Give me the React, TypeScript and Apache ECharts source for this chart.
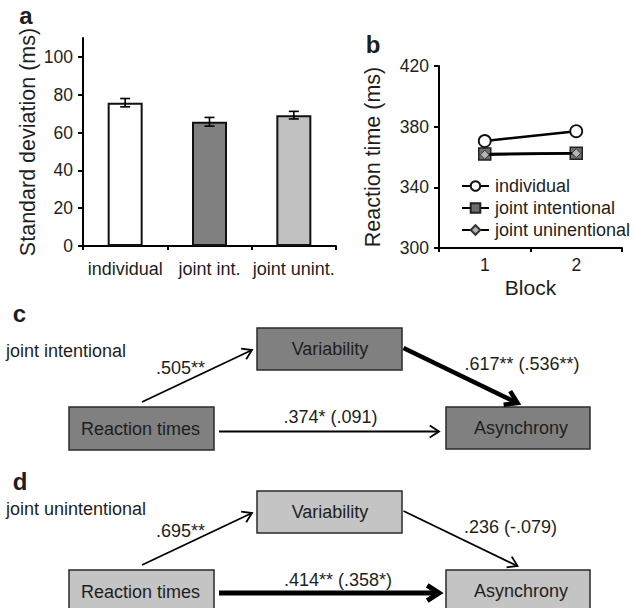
import React, { useEffect, useRef } from 'react';
import * as echarts from 'echarts';

// ---- data ----
const barCategories = ['individual', 'joint int.', 'joint unint.'];
const sdMeans = [75.8, 65.7, 69.2];
const sdErrors = [2.2, 2.3, 2.0];
const sdTicks = [0, 20, 40, 60, 80, 100];
const sdMax = 110;

const blocks = ['1', '2'];
const rtIndividual = [370.5, 377];
const rtJointIntentional = [362, 362.5];
const rtJointUnintentional = [361.5, 362.5];
const rtTicks = [300, 340, 380, 420];
const rtSeriesNames = ['individual', 'joint intentional', 'joint uninentional'];

const nodeLabels = ['Reaction times', 'Variability', 'Asynchrony'];
const conditionLabels = ['joint intentional', 'joint unintentional'];
const coefIntentional = ['.505**', '.617** (.536**)', '.374* (.091)'];
const coefUnintentional = ['.695**', '.236 (-.079)', '.414** (.358*)'];
const panelLetters = ['a', 'b', 'c', 'd'];

// ---- styles / layout ----
const FONT = '"Liberation Sans", Arial, Helvetica, sans-serif';
const TXT = '#1e1e1e';
const barColors = ['#ffffff', '#808080', '#c0c0c0'];

function arrow(x1: number, y1: number, x2: number, y2: number, w: number, head: number) {
  const a = Math.atan2(y2 - y1, x2 - x1);
  const s = Math.PI / 5.5;
  const p1 = [x2 - head * Math.cos(a - s), y2 - head * Math.sin(a - s)];
  const p2 = [x2 - head * Math.cos(a + s), y2 - head * Math.sin(a + s)];
  const back = w > 3 ? w * 0.6 : 0;
  return [
    {
      type: 'line',
      shape: { x1, y1, x2: x2 - back * Math.cos(a), y2: y2 - back * Math.sin(a) },
      style: { stroke: '#000', lineWidth: w },
    },
    {
      type: 'polyline',
      shape: { points: [p1, [x2, y2], p2] },
      style: { stroke: '#000', lineWidth: w, fill: null, lineJoin: 'miter' },
    },
  ];
}

function txt(x: number, y: number, text: string, size: number, align = 'center', bold = false) {
  return {
    type: 'text',
    x,
    y,
    style: {
      text,
      fontSize: size,
      fontFamily: FONT,
      fontWeight: bold ? 'bold' : 'normal',
      fill: TXT,
      align,
      verticalAlign: 'middle',
    },
  };
}

function box(x: number, y: number, w: number, h: number, fill: string) {
  return {
    type: 'rect',
    shape: { x, y, width: w, height: h },
    style: { fill, stroke: '#2a2a2a', lineWidth: 1.5 },
  };
}

function diagram(
  dy: number,
  fill: string,
  cond: string,
  condY: number,
  coef: string[],
  widths: number[],
  arrow3Y: number
) {
  const els: any[] = [];
  els.push(box(69, 407 + dy, 145, 43, fill));
  els.push(box(257, 328 + dy, 145, 42, fill));
  els.push(box(446, 407 + dy, 144, 42, fill));
  els.push(txt(140.5, 429 + dy, nodeLabels[0], 18));
  els.push(txt(330, 349 + dy, nodeLabels[1], 18));
  els.push(txt(521, 428 + dy, nodeLabels[2], 18));
  els.push(txt(6, condY, cond, 18, 'left'));
  els.push(...arrow(142, 402 + dy, 252, 350 + dy, widths[0], widths[0] > 3 ? 14 : 11));
  els.push(...arrow(403.5, 348 + dy, 517.5, 403 + dy, widths[1], widths[1] > 3 ? 14 : 11));
  els.push(...arrow(219, arrow3Y, 439, arrow3Y, widths[2], widths[2] > 3 ? 14 : 11));
  els.push(txt(180.5, 368 + dy, coef[0], 18));
  els.push(txt(dy === 0 ? 522 : 510.5, 364 + dy, coef[1], 18));
  els.push(txt(dy === 0 ? 330.5 : 338, 417 + dy, coef[2], 18));
  return els;
}

export default function App() {
  const ref = useRef<HTMLDivElement>(null);

  useEffect(() => {
    if (!ref.current) return;
    const chart = echarts.init(ref.current, undefined, { renderer: 'svg' });

    const axisLineStyle = { color: '#000', width: 2 };
    const graphics: any[] = [
      txt(26, 15.5, panelLetters[0], 24, 'center', true),
      txt(373, 44.5, panelLetters[1], 24, 'center', true),
      txt(19.5, 313.5, panelLetters[2], 24, 'center', true),
      txt(20, 481.5, panelLetters[3], 24, 'center', true),
      ...diagram(0, '#808080', conditionLabels[0], 351, coefIntentional, [1.8, 4.5, 1.8], 431.5),
      ...diagram(163, '#c4c4c4', conditionLabels[1], 509, coefUnintentional, [1.8, 1.8, 5], 593),
    ];

    const option: any = {
      animation: false,
      backgroundColor: '#fff',
      textStyle: { fontFamily: FONT, color: TXT },
      grid: [
        { left: 83, top: 38, width: 253, height: 208 },
        { left: 439, top: 66, width: 183, height: 182 },
      ],
      xAxis: [
        {
          type: 'category',
          gridIndex: 0,
          data: barCategories,
          boundaryGap: true,
          axisLine: { lineStyle: axisLineStyle },
          axisTick: { show: true, interval: 0, length: 4, lineStyle: { color: '#000', width: 2 } },
          axisLabel: { interval: 0, fontSize: 18, color: TXT, margin: 14, fontFamily: FONT, hideOverlap: false },
          splitLine: { show: false },
        },
        {
          type: 'category',
          gridIndex: 1,
          data: blocks,
          boundaryGap: true,
          name: 'Block',
          nameLocation: 'middle',
          nameGap: 29,
          nameTextStyle: { fontSize: 21, color: TXT, fontFamily: FONT },
          axisLine: { lineStyle: axisLineStyle },
          axisTick: { show: true, interval: 0, length: 4, lineStyle: { color: '#000', width: 2 } },
          axisLabel: { interval: 0, fontSize: 17.5, color: TXT, margin: 8, fontFamily: FONT },
          splitLine: { show: false },
        },
      ],
      yAxis: [
        {
          type: 'value',
          gridIndex: 0,
          min: 0,
          max: sdMax,
          name: 'Standard deviation (ms)',
          nameLocation: 'middle',
          nameGap: 44,
          nameTextStyle: { fontSize: 21.5, color: TXT, fontFamily: FONT },
          axisLine: { show: true, lineStyle: axisLineStyle },
          axisTick: { show: true, length: 5, customValues: sdTicks, lineStyle: { color: '#000', width: 2 } },
          axisLabel: { fontSize: 17.5, color: TXT, margin: 10, customValues: sdTicks, fontFamily: FONT },
          splitLine: { show: false },
        },
        {
          type: 'value',
          gridIndex: 1,
          min: rtTicks[0],
          max: rtTicks[rtTicks.length - 1],
          name: 'Reaction time (ms)',
          nameLocation: 'middle',
          nameGap: 55,
          nameTextStyle: { fontSize: 21.5, color: TXT, fontFamily: FONT },
          axisLine: { show: true, lineStyle: axisLineStyle },
          axisTick: { show: true, length: 5, customValues: rtTicks, lineStyle: { color: '#000', width: 2 } },
          axisLabel: { fontSize: 17.5, color: TXT, margin: 10, customValues: rtTicks, fontFamily: FONT },
          splitLine: { show: false },
        },
      ],
      legend: {
        orient: 'vertical',
        left: 456,
        top: 172,
        itemWidth: 27,
        itemHeight: 12,
        itemGap: 4,
        selectedMode: false,
        data: rtSeriesNames,
        textStyle: { fontSize: 18, lineHeight: 18, color: TXT, fontFamily: FONT, padding: [0, 0, 0, 1] },
      },
      series: [
        {
          type: 'bar',
          xAxisIndex: 0,
          yAxisIndex: 0,
          barWidth: 35,
          data: sdMeans.map((v, i) => ({
            value: v,
            itemStyle: { color: barColors[i], borderColor: '#111', borderWidth: 2 },
          })),
        },
        {
          type: 'custom',
          xAxisIndex: 0,
          yAxisIndex: 0,
          z: 10,
          data: sdMeans.map((m, i) => [i, m - sdErrors[i], m + sdErrors[i]]),
          renderItem: (params: any, api: any) => {
            const x = api.value(0);
            const lo = api.coord([x, api.value(1)]);
            const hi = api.coord([x, api.value(2)]);
            const hw = 5;
            const style = { stroke: '#000', lineWidth: 1.6 };
            return {
              type: 'group',
              children: [
                { type: 'line', shape: { x1: lo[0], y1: lo[1], x2: hi[0], y2: hi[1] }, style },
                { type: 'line', shape: { x1: lo[0] - hw, y1: lo[1], x2: lo[0] + hw, y2: lo[1] }, style },
                { type: 'line', shape: { x1: hi[0] - hw, y1: hi[1], x2: hi[0] + hw, y2: hi[1] }, style },
              ],
            };
          },
        },
        {
          type: 'line',
          name: rtSeriesNames[1],
          xAxisIndex: 1,
          yAxisIndex: 1,
          data: rtJointIntentional,
          symbol: 'rect',
          symbolSize: 12,
          lineStyle: { color: '#000', width: 2.5 },
          itemStyle: { color: '#6e6e6e', borderColor: '#222', borderWidth: 1.5 },
          z: 3,
        },
        {
          type: 'line',
          name: rtSeriesNames[2],
          xAxisIndex: 1,
          yAxisIndex: 1,
          data: rtJointUnintentional,
          symbol: 'diamond',
          symbolSize: 9,
          lineStyle: { color: '#000', width: 2.5 },
          itemStyle: { color: '#b4b4b4', borderColor: '#333', borderWidth: 1 },
          z: 4,
        },
        {
          type: 'line',
          name: rtSeriesNames[0],
          xAxisIndex: 1,
          yAxisIndex: 1,
          data: rtIndividual,
          symbol: 'circle',
          symbolSize: 12,
          lineStyle: { color: '#000', width: 2.5 },
          itemStyle: { color: '#fff', borderColor: '#111', borderWidth: 1.8 },
          z: 5,
        },
      ],
      graphic: graphics,
    };

    chart.setOption(option);
    return () => chart.dispose();
  }, []);

  return (
    <div
      ref={ref}
      style={{ position: 'absolute', left: 0, top: 0, width: 635, height: 608, background: '#fff' }}
    />
  );
}
